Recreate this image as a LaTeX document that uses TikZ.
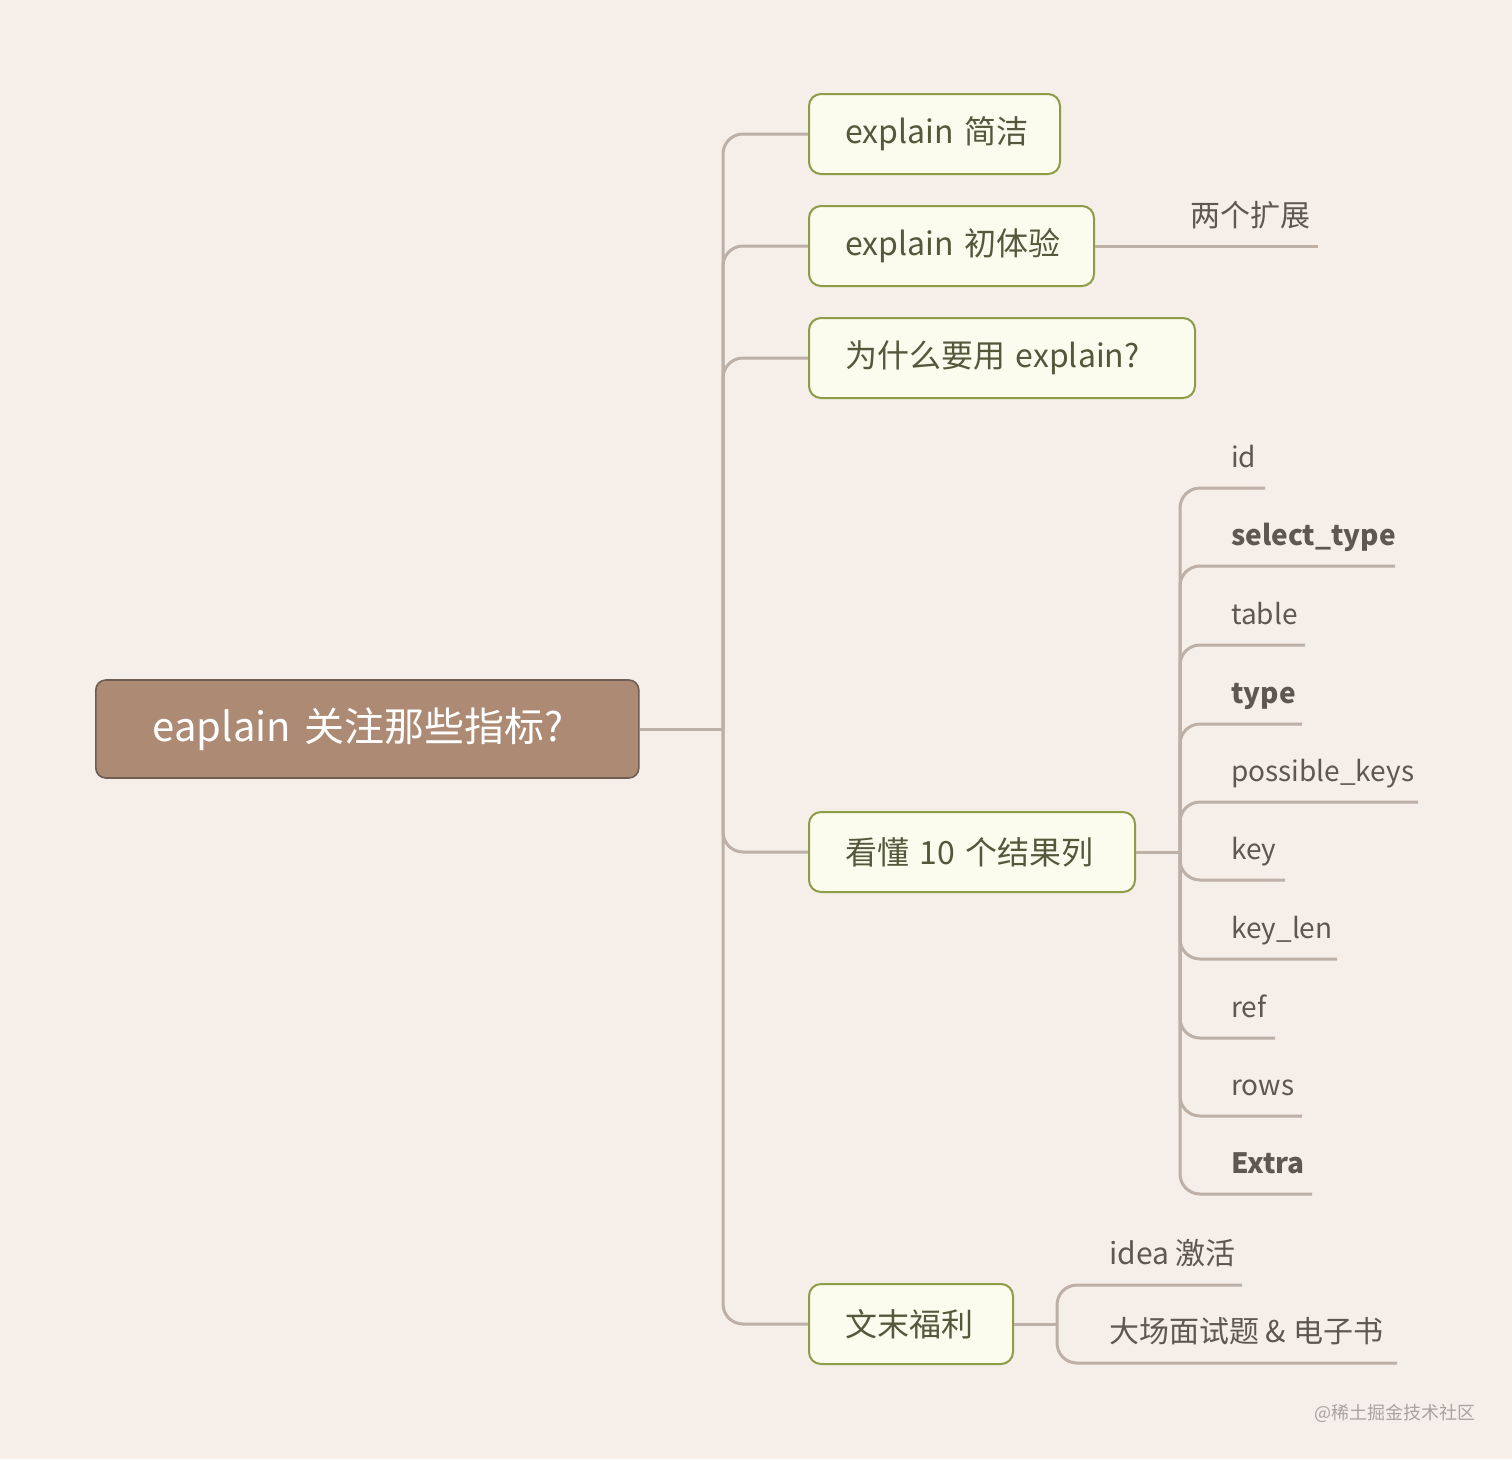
\documentclass[tikz,border=0pt]{standalone}
\usepackage{fontspec}
\setmainfont{Noto Sans CJK SC}
\definecolor{bgc}{HTML}{F6EFE9}
\definecolor{linec}{HTML}{BDB0A7}
\definecolor{rootfill}{HTML}{AD8A74}
\definecolor{rootdraw}{HTML}{6D5D52}
\definecolor{cfill}{HTML}{FBFBEE}
\definecolor{cdraw}{HTML}{8E9C47}
\definecolor{ctext}{HTML}{55583C}
\definecolor{itext}{HTML}{5F5852}
\definecolor{wmark}{HTML}{A8A39F}
\tikzset{
  conn/.style={draw=linec, line width=3pt, rounded corners=20pt},
  stub/.style={draw=linec, line width=3pt},
  rootbox/.style={draw=rootdraw, line width=1.6pt, fill=rootfill, rounded corners=10pt,
    text=white, font=\fontsize{40}{48}\selectfont, minimum height=98pt, anchor=west,
    inner ysep=0pt, align=left},
  cbox/.style={draw=cdraw, line width=2pt, fill=cfill, rounded corners=12pt,
    text=ctext, font=\fontsize{32}{38}\selectfont, minimum height=80pt, anchor=west,
    inner xsep=36pt, inner ysep=0pt, align=left},
  item/.style={text=itext, font=\fontsize{28}{34}\selectfont, anchor=base west, inner sep=0pt},
  citem/.style={item, font=\fontsize{30}{36}\selectfont},
  bitem/.style={item, font=\fontsize{28}{34}\selectfont\bfseries},
}
\begin{document}
\begin{tikzpicture}[x=1pt,y=-1pt]
\fill[bgc] (0,0) rectangle (1512,1459);
\useasboundingbox (0,0) rectangle (1512,1459);

% root
\node[rootbox, inner xsep=57pt, text width=429pt] (root) at (95,729) {\mbox{eaplain 关注那些指标?}};

% children
\node[cbox, text width=179pt] (c1) at (808,134) {\mbox{explain 简洁}};
\node[cbox, text width=213pt] (c2) at (808,246) {\mbox{explain 初体验}};
\node[cbox, text width=314pt] (c3) at (808,358) {\mbox{为什么要用 explain?}};
\node[cbox, text width=254pt] (c4) at (808,852) {\mbox{看懂 10 个结果列}};
\node[cbox, text width=132pt] (c5) at (808,1324) {\mbox{文末福利}};

% trunk
\coordinate (tr) at (723,729);
\draw[stub] (root.east) -- (tr);
\foreach \c in {c1,c2,c3,c4,c5}{
  \draw[conn] (tr) |- (\c.west);
}

% 两个扩展
\coordinate (extE) at (1318,246);
\node[citem] (ext) at (1190,226) {两个扩展};
\draw[stub] (c2.east) -- (extE);

% ten columns
\coordinate (cv) at (1180,852);
\draw[stub] (c4.east) -- (cv);
\foreach \n/\t/\st/\yl/\xe in {
  id/id/item/488/1265,
  st/select\_type/bitem/566/1395,
  tb/table/item/645/1305,
  ty/type/bitem/724/1302,
  pk/possible\_keys/item/802/1418,
  ky/key/item/880/1285,
  kl/key\_len/item/959/1337,
  rf/ref/item/1038/1275,
  rw/rows/item/1116/1302,
  ex/Extra/bitem/1194/1312}{
  \node[\st] (\n) at (1231,\yl-21) {\t};
  \coordinate (\n E) at (\xe,\yl);
  \draw[conn] (cv) |- (\n E);
}

% 文末福利
\coordinate (fv) at (1057,1324);
\node[citem] (idea) at (1109,1264) {idea 激活};
\node[citem] (book) at (1109,1342) {大场面试题 \& 电子书};
\coordinate (ideaE) at (1242,1285);
\coordinate (bookE) at (1397,1363);
\draw[stub] (c5.east) -- (fv);
\draw[conn] (fv) |- (ideaE);
\draw[conn] (fv) |- (bookE);

% watermark
\node[text=wmark, font=\fontsize{18}{22}\selectfont, anchor=east, inner sep=0pt] (wm) at (1476,1413) {@稀土掘金技术社区};
\end{tikzpicture}
\end{document}
